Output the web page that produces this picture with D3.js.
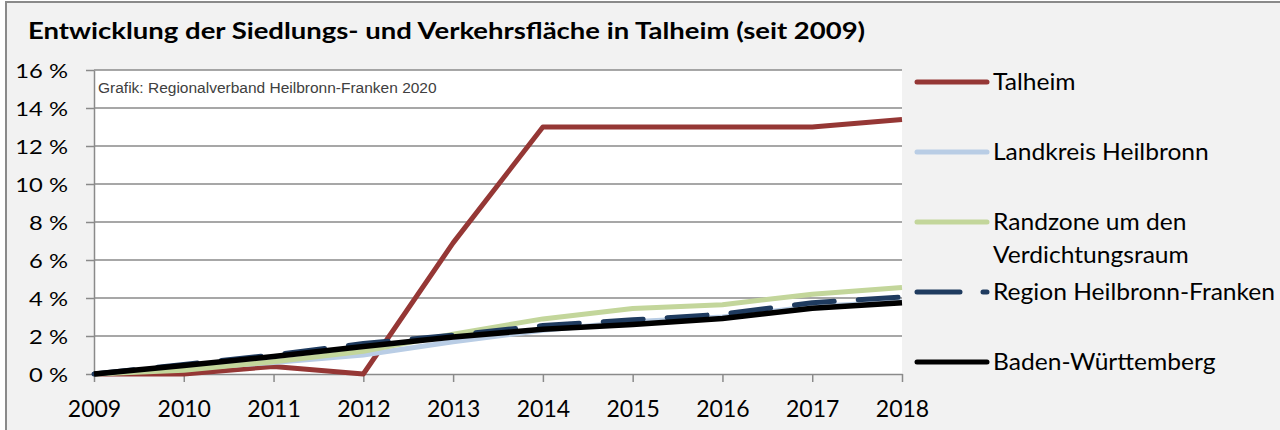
<!DOCTYPE html>
<html>
<head>
<meta charset="utf-8">
<script src="https://cdn.jsdelivr.net/npm/d3@7"></script>
<style>
  body { margin: 0; background: #fff; }
</style>
</head>
<body>
<div id="chart"></div>
<script>
// values (percent growth since 2009)
const years = ["2009", "2010", "2011", "2012", "2013", "2014", "2015", "2016", "2017", "2018"];
const talheim   = [0, 0, 0.4, 0, 6.9, 13.0, 13.0, 13.0, 13.0, 13.4];
const landkreis = [0, 0.3, 0.6, 1.0, 1.7, 2.3, 2.75, 3.0, 3.55, 3.8];
const randzone  = [0, 0.2, 0.65, 1.2, 2.1, 2.9, 3.45, 3.65, 4.2, 4.55];
const region    = [0, 0.5, 1.0, 1.6, 2.05, 2.55, 2.85, 3.15, 3.75, 4.05];
const bawue     = [0, 0.45, 0.92, 1.45, 1.95, 2.35, 2.6, 2.92, 3.46, 3.75];
const seriesNames = ["Talheim", "Landkreis Heilbronn", "Randzone um den Verdichtungsraum",
                     "Region Heilbronn-Franken", "Baden-Württemberg"];
const legendLines = [["Talheim"], ["Landkreis Heilbronn"], ["Randzone um den", "Verdichtungsraum"],
                     ["Region Heilbronn-Franken"], ["Baden-Württemberg"]];
const yTicks = [0, 2, 4, 6, 8, 10, 12, 14, 16];
const title = "Entwicklung der Siedlungs- und Verkehrsfläche in Talheim (seit 2009)";
const source = "Grafik: Regionalverband Heilbronn-Franken 2020";

const series = [talheim, landkreis, randzone, region, bawue].map((values, i) => ({
  name: seriesNames[i],
  legend: legendLines[i],
  values: values
}));

// look of each series, same order as above
const styles = [
  {color: "#953735", width: 5, dash: null},
  {color: "#b9cde5", width: 5, dash: null},
  {color: "#c3d69b", width: 5, dash: null},
  {color: "#1f3b5f", width: 5, dash: "40,24"},
  {color: "#000000", width: 5.5, dash: null}
];

const width = 1280, height = 430;
const margin = {top: 70, right: 378, bottom: 56, left: 94};
const visWidth = width - margin.left - margin.right;
const visHeight = height - margin.top - margin.bottom;
const font = "Lato, 'Open Sans', sans-serif";
const grid = "#8a8a8a";

// the original picture is wider than its type, so widen the glyphs too
// (scale around the anchor point, works for any text-anchor)
function stretch(sel, k) {
  sel.each(function() {
    const t = d3.select(this);
    const x0 = +t.attr("x") || 0;
    t.attr("x", x0 / k).attr("transform", `scale(${k},1)`);
  });
}

const svg = d3.select("#chart").append("svg")
    .attr("width", width)
    .attr("height", height);

// chart frame
svg.append("rect")
    .attr("x", 6).attr("y", 2)
    .attr("width", width + 10).attr("height", height + 10)
    .attr("fill", "#f2f2f2")
    .attr("stroke", grid)
    .attr("stroke-width", 2);

svg.append("text")
    .attr("x", 28)
    .attr("y", 39)
    .attr("font-family", font)
    .attr("font-weight", "bold")
    .attr("font-size", 22)
    .attr("fill", "#000")
    .text(title)
    .call(stretch, 1.25);

const g = svg.append("g")
    .attr("transform", `translate(${margin.left}, ${margin.top})`);

// scales
const x = d3.scalePoint()
    .domain(years)
    .range([0, visWidth]);

const y = d3.scaleLinear()
    .domain([0, 16])
    .range([visHeight, 0]);

// plot area
g.append("rect")
    .attr("width", visWidth)
    .attr("height", visHeight)
    .attr("fill", "#fff");

// gridlines
g.append("g")
  .selectAll("line")
  .data(yTicks.filter(d => d > 0))
  .join("line")
    .attr("x1", 0)
    .attr("x2", visWidth)
    .attr("y1", d => y(d))
    .attr("y2", d => y(d))
    .attr("stroke", grid)
    .attr("stroke-width", 1.5);

g.append("text")
    .attr("x", 4)
    .attr("y", 23)
    .attr("font-family", "'Liberation Sans', Arial, sans-serif")
    .attr("font-size", 15.5)
    .attr("fill", "#404040")
    .text(source);

// axes
const yAxis = d3.axisLeft(y)
    .tickValues(yTicks)
    .tickSize(8)
    .tickSizeOuter(0)
    .tickPadding(18)
    .tickFormat(d => d + " %");

g.append("g")
    .call(yAxis)
    .call(a => a.selectAll("line, path").attr("stroke", grid).attr("stroke-width", 1.5))
    .call(a => a.selectAll("text")
      .attr("font-family", font)
      .attr("font-size", 19)
      .attr("fill", "#000")
      .attr("dy", "0.4em")
      .call(stretch, 1.25));

const xAxis = d3.axisBottom(x)
    .tickSize(8)
    .tickSizeOuter(0)
    .tickPadding(19);

g.append("g")
    .attr("transform", `translate(0, ${visHeight})`)
    .call(xAxis)
    .call(a => a.selectAll("line, path").attr("stroke", grid).attr("stroke-width", 1.5))
    .call(a => a.selectAll("text")
      .attr("font-family", font)
      .attr("font-size", 23)
      .attr("fill", "#000"));

// lines
const line = d3.line()
    .x((d, i) => x(years[i]))
    .y(d => y(d));

g.append("g")
  .selectAll("path")
  .data(series)
  .join("path")
    .attr("d", d => line(d.values))
    .attr("fill", "none")
    .attr("stroke", (d, i) => styles[i].color)
    .attr("stroke-width", (d, i) => styles[i].width)
    .attr("stroke-dasharray", (d, i) => styles[i].dash)
    .attr("stroke-linecap", (d, i) => styles[i].dash ? "round" : "butt")
    .attr("stroke-linejoin", "round");

// legend
const legend = svg.append("g")
    .attr("transform", `translate(${margin.left + visWidth + 13}, 82)`)
  .selectAll("g")
  .data(series)
  .join("g")
    .attr("transform", (d, i) => `translate(0, ${i * 70})`);

legend.append("line")
    .attr("x1", 2)
    .attr("x2", 72)
    .attr("stroke", (d, i) => styles[i].color)
    .attr("stroke-width", 5)
    .attr("stroke-linecap", "round")
    .attr("stroke-dasharray", (d, i) => styles[i].dash ? "43,23" : null);

legend.selectAll("text")
  .data(d => d.legend)
  .join("text")
    .attr("x", 78)
    .attr("y", (d, i) => 8 + i * 33)
    .attr("font-family", font)
    .attr("font-size", 23)
    .attr("fill", "#000")
    .text(d => d)
    .call(stretch, 1.07);
</script>
</body>
</html>
